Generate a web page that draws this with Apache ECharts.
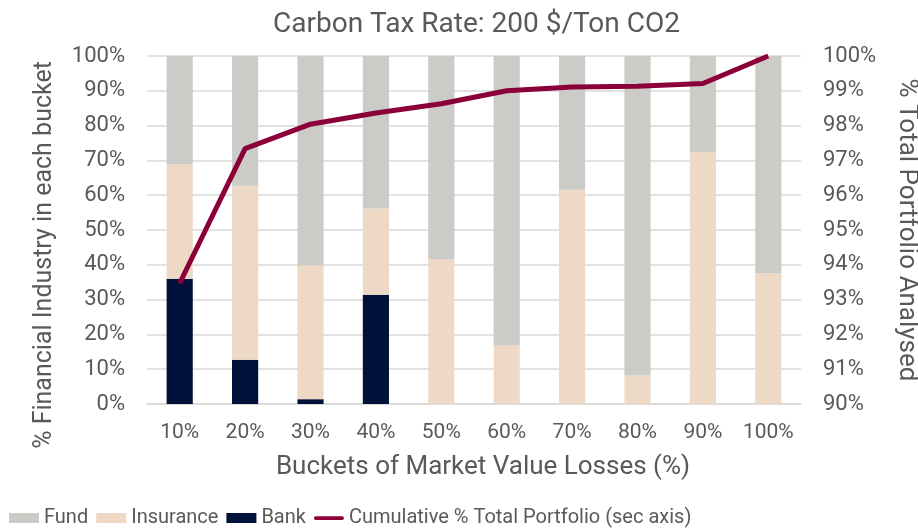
<!DOCTYPE html>
<html>
<head>
<meta charset="utf-8">
<script src="https://cdn.jsdelivr.net/npm/echarts@6/dist/echarts.min.js"></script>
<style>
  html, body { margin: 0; padding: 0; background: #fff; }
  #chart { width: 918px; height: 528px; }
</style>
</head>
<body>
<div id="chart"></div>
<script>
// buckets on x axis
const buckets = ['10%', '20%', '30%', '40%', '50%', '60%', '70%', '80%', '90%', '100%']
// share of each industry per bucket (%)
const bank = [36.0, 12.7, 1.4, 31.4, 0, 0, 0, 0, 0, 0]
const insurance = [32.9, 50.0, 38.4, 24.8, 41.7, 16.8, 61.6, 8.2, 72.4, 37.6]
const fund = [31.1, 37.3, 60.2, 43.8, 58.3, 83.2, 38.4, 91.8, 27.6, 62.4]
// cumulative % of total portfolio (secondary axis)
const cumulative = [93.47, 97.34, 98.04, 98.36, 98.63, 99.0, 99.11, 99.13, 99.21, 100]

const txt = '#595959'
const font = 'Roboto'

let chart = echarts.init(document.getElementById('chart'))
let option = {
  animation: false,
  title: {
    text: 'Carbon Tax Rate: 200 $/Ton CO2',
    left: 268,
    top: 6,
    textStyle: { color: txt, fontFamily: font, fontSize: 28, fontWeight: 'normal' }
  },
  legend: {
    left: 4,
    top: 503,
    itemWidth: 30,
    itemHeight: 10,
    itemGap: 8,
    textStyle: { color: txt, fontFamily: font, fontSize: 20 },
    data: [
      { name: 'Fund', icon: 'rect' },
      { name: 'Insurance', icon: 'rect' },
      { name: 'Bank', icon: 'rect' },
      // thin rounded line as the legend mark
      { name: 'Cumulative % Total Portfolio (sec axis)', icon: 'path://M2,0 H30 A2,2 0 0 1 30,4 H2 A2,2 0 0 1 2,0 Z' }
    ]
  },
  grid: { left: 147, right: 117, top: 56, bottom: 124, outerBoundsMode: 'none' },
  xAxis: {
    type: 'category',
    data: buckets,
    name: 'Buckets of Market Value Losses (%)',
    nameLocation: 'middle',
    nameGap: 50,
    nameTextStyle: { color: txt, fontFamily: font, fontSize: 26, padding: [0, 0, 0, 18] },
    axisLine: { lineStyle: { color: '#d9d9d9', width: 1.5 } },
    axisTick: { show: false },
    axisLabel: { color: txt, fontFamily: font, fontSize: 21, margin: 18, interval: 0 }
  },
  yAxis: [
    {
      type: 'value',
      min: 0, max: 100, interval: 10,
      name: '% Financial Industry in each bucket',
      nameLocation: 'middle',
      nameGap: 90,
      nameTextStyle: { color: txt, fontFamily: font, fontSize: 25, padding: [0, 50, 0, 0] },
      axisLabel: { color: txt, fontFamily: font, fontSize: 22, formatter: '{value}%', margin: 22 },
      axisLine: { show: false },
      splitLine: { lineStyle: { color: '#d9d9d9', width: 1.5 } }
    },
    {
      type: 'value',
      min: 90, max: 100, interval: 1,
      name: '% Total Portfolio Analysed',
      nameLocation: 'middle',
      nameRotate: -90,
      nameGap: 92,
      nameTextStyle: { color: txt, fontFamily: font, fontSize: 26 },
      axisLabel: { color: txt, fontFamily: font, fontSize: 22, formatter: '{value}%', margin: 22 },
      axisLine: { show: false },
      splitLine: { show: false }
    }
  ],
  series: [
    {
      name: 'Bank', type: 'bar', stack: 'total', barWidth: '40%',
      itemStyle: { color: '#00123a' },
      data: bank
    },
    {
      name: 'Insurance', type: 'bar', stack: 'total', barWidth: '40%',
      itemStyle: { color: '#edd9c5' },
      data: insurance
    },
    {
      name: 'Fund', type: 'bar', stack: 'total', barWidth: '40%',
      itemStyle: { color: '#cbcbc7' },
      data: fund
    },
    {
      name: 'Cumulative % Total Portfolio (sec axis)', type: 'line', yAxisIndex: 1,
      symbol: 'none',
      lineStyle: { color: '#8b0038', width: 5 },
      itemStyle: { color: '#8b0038' },
      data: cumulative
    }
  ]
}
chart.setOption(option)
</script>
</body>
</html>
